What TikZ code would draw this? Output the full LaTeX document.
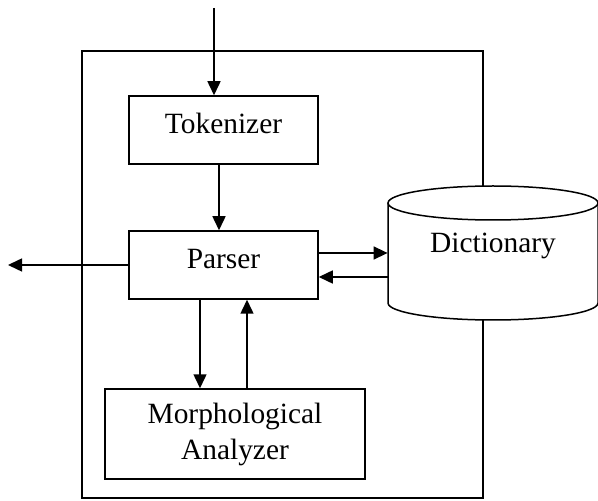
\documentclass[tikz,border=0pt]{standalone}
\usepackage{fontspec}
\setmainfont{Liberation Serif}
\usetikzlibrary{arrows.meta}

\begin{document}
\begin{tikzpicture}[x=0.5pt,y=-0.5pt,>={Triangle[length=7pt,width=6.5pt]},font=\fontsize{14.7}{18}\selectfont]
\tikzstyle{box} = [rectangle, draw=black, line width=0.75pt, text centered, inner sep=0pt, text height=0.7em, text depth=0.3em]
\tikzstyle{arr} = [->, line width=0.75pt]
\useasboundingbox (0,0) rectangle (598,501);
% frame
\draw[line width=0.75pt] (82,51) rectangle (483,498);
% dictionary store
\fill[white] (388,203) -- (388,303) arc[start angle=180, end angle=360, x radius=52.5pt, y radius=8.5pt] -- (598,203) -- cycle;
\draw[line width=0.75pt] (388,203) -- (388,303) arc[start angle=180, end angle=360, x radius=52.5pt, y radius=8.5pt] -- (598,203);
\draw[line width=0.75pt, fill=white] (493,203) ellipse[x radius=52.5pt, y radius=8.5pt];
\node (tok) [box, minimum width=94.5pt, minimum height=34pt] at (223.5,130) {Tokenizer};
\node (parser) [box, minimum width=94.5pt, minimum height=34pt] at (223.5,265) {Parser};
\node (morph) [rectangle, draw=black, line width=0.75pt, minimum width=130pt, minimum height=45pt, align=center] at (235,434) {Morphological\\Analyzer};
\node (dict) [minimum width=105pt, inner sep=0pt] at (493,246) {Dictionary};
\coordinate (in) at (214,8);
\coordinate (out) at (8,265);
\draw[arr] (in) -- (in |- tok.north);
\draw[arr] ([xshift=-2.25pt]tok.south) -- ([xshift=-2.25pt]parser.north);
\draw[arr] (parser.west) -- (out);
\draw[arr] ([yshift=6pt]parser.east) -- ([yshift=6pt]parser.east -| dict.west);
\draw[arr] ([yshift=-6pt]parser.east -| dict.west) -- ([yshift=-6pt]parser.east);
\draw[arr] ([xshift=-11.75pt]parser.south) -- ([xshift=-11.75pt]parser.south |- morph.north);
\draw[arr] ([xshift=11.75pt]parser.south |- morph.north) -- ([xshift=11.75pt]parser.south);

\end{tikzpicture}
\end{document}
